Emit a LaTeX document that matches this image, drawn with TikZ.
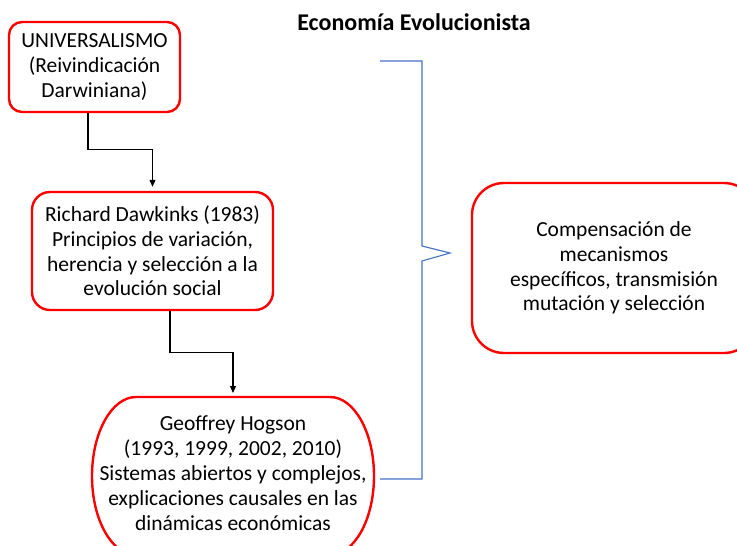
\documentclass[tikz,border=0pt]{standalone}
\usepackage{fontspec}
\setmainfont{Carlito}
\usetikzlibrary{arrows.meta}

\definecolor{bracketblue}{HTML}{4472C4}

\begin{document}
\begin{tikzpicture}[x=1pt,y=-1pt,
    box/.style={draw=red, line width=2.4pt, align=center, inner sep=0pt,
      font=\fontsize{21.5}{24.8}\selectfont},
    link/.style={draw=black, line width=1.1pt, -{Triangle[length=7pt,width=6pt]}, shorten >=4pt}]
    \useasboundingbox (0,0) rectangle (737,546);
    \clip (0,0) rectangle (737,546);

    \node[font=\fontsize{24}{28}\selectfont\bfseries] (title) at (414,22) {Economía Evolucionista};

    \node[box, rounded corners=13pt, minimum width=171pt, minimum height=90pt]
      (universal) at (94.5,67) {UNIVERSALISMO\\(Reivindicación\\Darwiniana)};
    \node[box, rounded corners=18pt, minimum width=241pt, minimum height=118pt]
      (dawkins) at (152.5,251) {Richard Dawkinks (1983)\\Principios de variación,\\herencia y selección a la\\evolución social};
    \node[box, draw=none, anchor=north, minimum width=282pt, minimum height=150pt]
      (hogson) at (233,397) {Geoffrey Hogson\\(1993, 1999, 2002, 2010)\\Sistemas abiertos y complejos,\\explicaciones causales en las\\dinámicas económicas};
    \node[box, rounded corners=32pt, minimum width=284pt, minimum height=170pt]
      (compensa) at (614,268) {Compensación de\\mecanismos\\específicos, transmisión\\mutación y selección};

    % contorno de Hogson
    \draw[red, line width=2.4pt] (136,397) -- (330,397)
      .. controls (354,397) and (374,432) .. (374,476)
      .. controls (374,520) and (354,555) .. (330,555) -- (136,555)
      .. controls (112,555) and (92,520) .. (92,476)
      .. controls (92,432) and (112,397) .. (136,397) -- cycle;

    \draw[link] ([xshift=-6.5pt]universal.south) -- ++(0,36) -| (dawkins.north);
    \draw[link] ([xshift=17.5pt]dawkins.south) -- ++(0,41) -| (hogson.north);

    % llave
    \coordinate (tip) at (450,253);
    \draw[bracketblue, line width=1.1pt] (380,61) -- (422,61) -- (422,246)
      -- (tip) -- (422,261) -- (422,479) -- (380,479);
\end{tikzpicture}
\end{document}
